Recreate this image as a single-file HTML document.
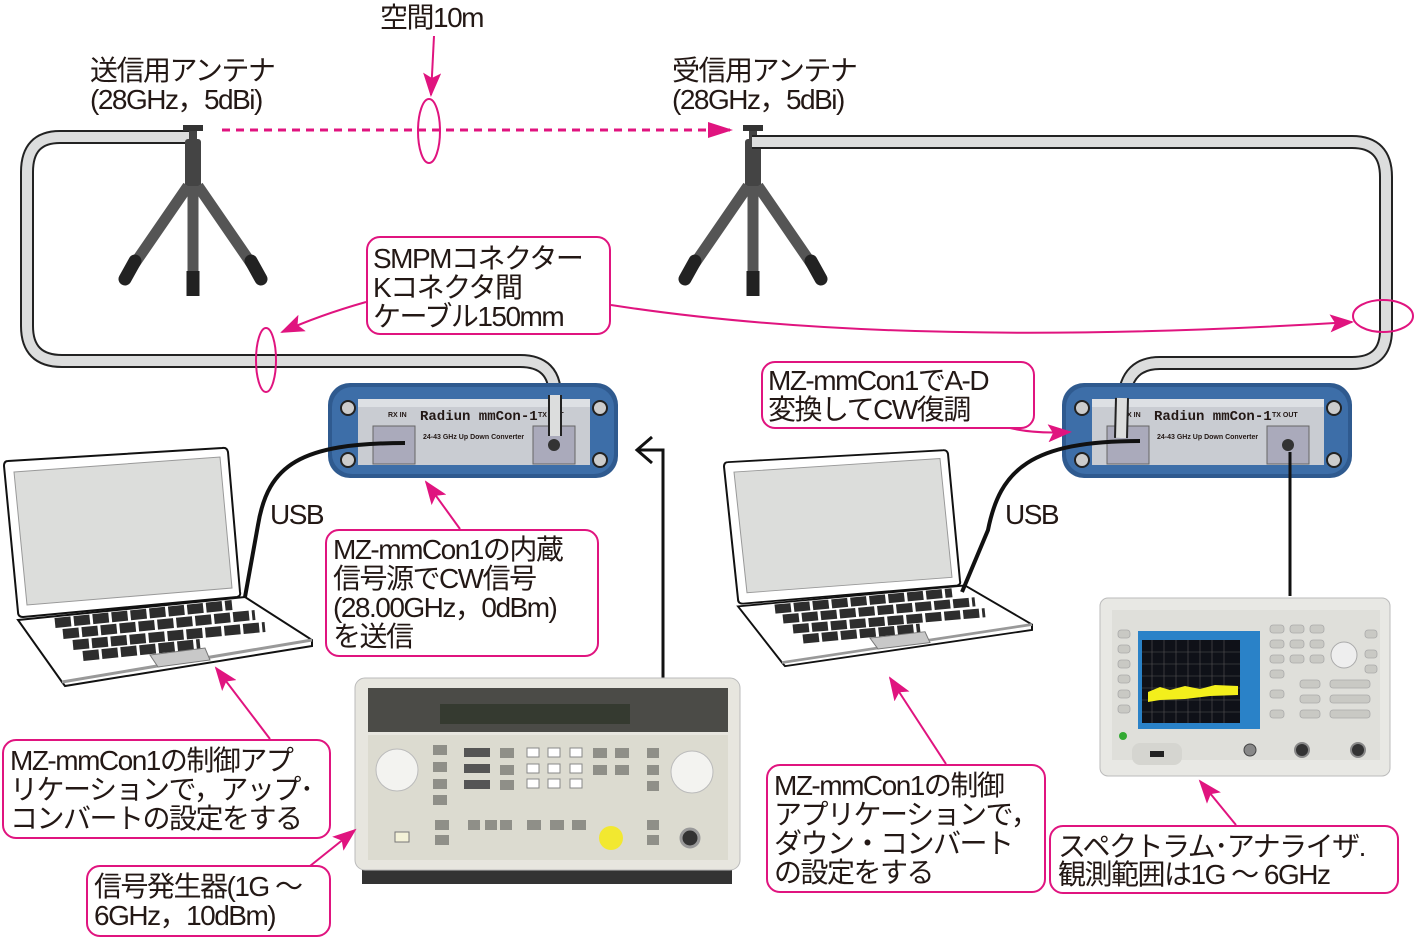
<!DOCTYPE html>
<html><head><meta charset="utf-8"><style>
html,body{margin:0;padding:0;background:#fff}
svg{display:block}
text{font-family:"Liberation Sans","Noto Sans CJK JP",sans-serif;font-size:28px;fill:#231815;letter-spacing:-1.5px}
</style></head><body>
<svg width="1415" height="937" viewBox="0 0 1415 937" xmlns="http://www.w3.org/2000/svg">
<defs>
<marker id="ah2" markerWidth="24" markerHeight="18" refX="22" refY="9" orient="auto" markerUnits="userSpaceOnUse">
<path d="M0,0 L24,9 L0,18 L5,9 z" fill="#e0147f"/></marker>
<g id="tripod">
<rect x="-10" y="-6" width="20" height="6" fill="#333"/>
<rect x="-4" y="0" width="8" height="10" fill="#444"/>
<rect x="-8" y="8" width="16" height="52" rx="3" fill="#444"/>
<line x1="-5" y1="55" x2="-60" y2="135" stroke="#555" stroke-width="11"/>
<line x1="5" y1="55" x2="60" y2="135" stroke="#555" stroke-width="11"/>
<line x1="0" y1="55" x2="0" y2="140" stroke="#555" stroke-width="11"/>
<line x1="-58" y1="130" x2="-68" y2="148" stroke="#222" stroke-width="13" stroke-linecap="round"/>
<line x1="58" y1="130" x2="68" y2="148" stroke="#222" stroke-width="13" stroke-linecap="round"/>
<line x1="0" y1="140" x2="0" y2="165" stroke="#222" stroke-width="13"/>
</g>
<g id="conv">
<rect x="0" y="0" width="290" height="95" rx="22" fill="#2f5a8f"/>
<rect x="4" y="4" width="282" height="87" rx="20" fill="#3d6ea8"/>
<rect x="30" y="16" width="232" height="66" fill="#c9ccd2"/>
<rect x="30" y="16" width="232" height="8" fill="#dde0e4"/>
<circle cx="20" cy="25" r="7" fill="#ccc" stroke="#222" stroke-width="2"/>
<circle cx="20" cy="77" r="7" fill="#ccc" stroke="#222" stroke-width="2"/>
<circle cx="272" cy="25" r="7" fill="#ccc" stroke="#222" stroke-width="2"/>
<circle cx="272" cy="77" r="7" fill="#ccc" stroke="#222" stroke-width="2"/>
<rect x="45" y="43" width="42" height="38" fill="#aab" stroke="#666"/>
<rect x="205" y="43" width="42" height="38" fill="#aab" stroke="#666"/>
<circle cx="226" cy="62" r="6" fill="#333"/>
<text x="60" y="34" style="font-size:7px;font-weight:bold;letter-spacing:0">RX IN</text>
<text x="92" y="37" style="font-size:14px;font-weight:bold;letter-spacing:0;font-family:'Liberation Mono',monospace">Radiun  mmCon-1</text>
<text x="210" y="34" style="font-size:7px;font-weight:bold;letter-spacing:0">TX OUT</text>
<text x="95" y="56" style="font-size:7px;font-weight:bold;letter-spacing:0">24-43 GHz Up Down Converter</text>
</g>
<g id="laptop">
<path d="M8,461 Q4,461 4,466 L18,612 Q18,617 23,617 L237,597 Q241,596 240,592 L228,452 Q227,447 222,448 Z" fill="#fff" stroke="#111" stroke-width="2"/>
<path d="M14,472 L220,457 L232,588 L27,605 Z" fill="#dcdddb" stroke="#999" stroke-width="1"/>
<path d="M18,620 L245,597 L312,640 L312,646 L65,686 L62,682 Z" fill="#fff" stroke="#111" stroke-width="2"/>
<path d="M62,682 L312,640" stroke="#999" stroke-width="3"/>
<g stroke="#2d2d2d" stroke-width="10" stroke-dasharray="16 3">
<line x1="55" y1="623" x2="232" y2="605"/>
<line x1="63" y1="634" x2="255" y2="615"/>
<line x1="73" y1="645" x2="265" y2="627"/>
<line x1="83" y1="656" x2="200" y2="644"/>
</g>
<path d="M150,655 L205,648 L210,660 L158,667 Z" fill="#c8c8c8" stroke="#777"/>
</g>
</defs>

<path d="M192,137 L60,137 Q27,137 27,172 L27,326 Q27,361 62,361 L520,361 Q555,361 555,396 L555,432" fill="none" stroke="#222" stroke-width="14"/>
<path d="M192,137 L60,137 Q27,137 27,172 L27,326 Q27,361 62,361 L520,361 Q555,361 555,396 L555,432" fill="none" stroke="#dcdddd" stroke-width="10"/>

<use href="#tripod" x="193" y="131"/>
<use href="#tripod" x="753" y="131"/>

<path d="M752,142 L1352,142 Q1386,142 1386,177 L1386,330 Q1386,363 1352,363 L1160,363 Q1127,363 1124,398 L1122,435" fill="none" stroke="#222" stroke-width="14"/>
<path d="M752,142 L1352,142 Q1386,142 1386,177 L1386,330 Q1386,363 1352,363 L1160,363 Q1127,363 1124,398 L1122,435" fill="none" stroke="#dcdddd" stroke-width="10"/>

<text x="380" y="27">空間10m</text>
<line x1="434" y1="36" x2="431" y2="95" stroke="#e0147f" stroke-width="2" marker-end="url(#ah2)"/>
<ellipse cx="429" cy="131" rx="11" ry="32" fill="none" stroke="#e0147f" stroke-width="2"/>
<line x1="222" y1="130" x2="730" y2="130" stroke="#e0147f" stroke-width="3" stroke-dasharray="8 6"/>
<path d="M708,122 L733,130 L708,138 Z" fill="#e0147f"/>
<text x="90" y="80">送信用アンテナ</text>
<text x="90" y="109">(28GHz，5dBi)</text>
<text x="672" y="80">受信用アンテナ</text>
<text x="672" y="109">(28GHz，5dBi)</text>

<rect x="367" y="237" width="243" height="97" rx="13" fill="#fff" stroke="#e0147f" stroke-width="2"/>
<text x="373" y="268">SMPMコネクター</text>
<text x="373" y="297">Kコネクタ間</text>
<text x="373" y="326">ケーブル150mm</text>
<path d="M366,302 Q320,315 282,332" fill="none" stroke="#e0147f" stroke-width="2" marker-end="url(#ah2)"/>
<ellipse cx="266" cy="360" rx="10" ry="32" fill="none" stroke="#e0147f" stroke-width="2"/>
<path d="M611,305 Q900,350 1352,322" fill="none" stroke="#e0147f" stroke-width="2" marker-end="url(#ah2)"/>
<ellipse cx="1383" cy="316" rx="30" ry="16" fill="none" stroke="#e0147f" stroke-width="2"/>

<use href="#conv" x="328" y="383"/>
<use href="#conv" x="1062" y="383"/>
<path d="M555,395 L555,436" stroke="#222" stroke-width="14"/><path d="M555,395 L555,436" stroke="#dcdddd" stroke-width="10"/>
<path d="M1122,398 L1121,438" stroke="#222" stroke-width="14"/><path d="M1122,398 L1121,438" stroke="#dcdddd" stroke-width="10"/>

<use href="#laptop"/>
<g transform="translate(720,44) scale(1,0.907)"><use href="#laptop"/></g>

<path d="M405,443 C300,443 268,465 258,525 L245,597" fill="none" stroke="#111" stroke-width="4"/>
<path d="M1140,441 C1030,441 1000,470 988,530 L962,592" fill="none" stroke="#111" stroke-width="4"/>
<text x="270" y="524">USB</text>
<text x="1005" y="524">USB</text>

<path d="M663,680 L663,450 L638,450" fill="none" stroke="#111" stroke-width="3"/>
<path d="M652,437 L637,450 L652,463" fill="none" stroke="#111" stroke-width="3"/>
<line x1="1290" y1="452" x2="1290" y2="596" stroke="#111" stroke-width="3"/>

<rect x="362" y="870" width="370" height="14" fill="#333"/>
<rect x="355" y="678" width="385" height="192" rx="10" fill="#e7e6df" stroke="#bbb"/>
<rect x="368" y="688" width="360" height="44" fill="#4b4b47"/>
<rect x="440" y="704" width="190" height="20" fill="#353a30"/>
<rect x="368" y="735" width="360" height="125" fill="#dcdbd0"/>
<circle cx="397" cy="770" r="21" fill="#f3f3f0" stroke="#bbb"/>
<circle cx="692" cy="772" r="21" fill="#f3f3f0" stroke="#bbb"/>
<g fill="#8f8f88">
<rect x="433" y="745" width="14" height="10"/><rect x="433" y="762" width="14" height="10"/><rect x="433" y="779" width="14" height="10"/><rect x="433" y="795" width="14" height="10"/>
<rect x="464" y="748" width="26" height="9" fill="#555"/><rect x="464" y="764" width="26" height="9" fill="#555"/><rect x="464" y="780" width="26" height="9" fill="#555"/>
<rect x="500" y="748" width="14" height="10"/><rect x="500" y="765" width="14" height="10"/><rect x="500" y="780" width="14" height="10"/>
<rect x="527" y="748" width="12" height="9" fill="#fff" stroke="#888"/><rect x="548" y="748" width="12" height="9" fill="#fff" stroke="#888"/><rect x="570" y="748" width="12" height="9" fill="#fff" stroke="#888"/>
<rect x="527" y="764" width="12" height="9" fill="#fff" stroke="#888"/><rect x="548" y="764" width="12" height="9" fill="#fff" stroke="#888"/><rect x="570" y="764" width="12" height="9" fill="#fff" stroke="#888"/>
<rect x="527" y="779" width="12" height="9" fill="#fff" stroke="#888"/><rect x="548" y="779" width="12" height="9" fill="#fff" stroke="#888"/><rect x="570" y="779" width="12" height="9" fill="#fff" stroke="#888"/>
<rect x="593" y="748" width="14" height="10"/><rect x="615" y="748" width="14" height="10"/><rect x="593" y="765" width="14" height="10"/><rect x="615" y="765" width="14" height="10"/>
<rect x="647" y="748" width="12" height="10"/><rect x="647" y="765" width="12" height="10"/><rect x="647" y="781" width="12" height="10"/>
<rect x="435" y="820" width="14" height="10"/><rect x="435" y="835" width="14" height="10"/><rect x="468" y="820" width="12" height="10"/><rect x="485" y="820" width="12" height="10"/><rect x="500" y="820" width="12" height="10"/>
<rect x="527" y="820" width="14" height="10"/><rect x="550" y="820" width="14" height="10"/><rect x="572" y="820" width="14" height="10"/>
<rect x="647" y="820" width="12" height="10"/><rect x="647" y="835" width="12" height="10"/>
</g>
<circle cx="611" cy="838" r="12" fill="#f2e830"/>
<rect x="395" y="832" width="14" height="10" fill="#f4f2d8" stroke="#777"/>
<circle cx="690" cy="838" r="9" fill="#333" stroke="#999" stroke-width="3"/>

<rect x="1100" y="598" width="290" height="178" rx="8" fill="#e8e8e4" stroke="#bbb"/>
<rect x="1112" y="610" width="268" height="150" fill="#dfdfda"/>
<rect x="1138" y="631" width="122" height="98" fill="#2a82c8"/>
<rect x="1142" y="640" width="98" height="83" fill="#0f1118"/>
<g stroke="#555" stroke-width="0.6">
<line x1="1152" y1="640" x2="1152" y2="723"/><line x1="1164" y1="640" x2="1164" y2="723"/><line x1="1176" y1="640" x2="1176" y2="723"/><line x1="1188" y1="640" x2="1188" y2="723"/><line x1="1200" y1="640" x2="1200" y2="723"/><line x1="1212" y1="640" x2="1212" y2="723"/><line x1="1224" y1="640" x2="1224" y2="723"/>
<line x1="1142" y1="652" x2="1240" y2="652"/><line x1="1142" y1="664" x2="1240" y2="664"/><line x1="1142" y1="676" x2="1240" y2="676"/><line x1="1142" y1="688" x2="1240" y2="688"/><line x1="1142" y1="700" x2="1240" y2="700"/><line x1="1142" y1="712" x2="1240" y2="712"/>
</g>
<path d="M1148,692 L1160,687 L1170,690 L1185,686 L1200,689 L1215,685 L1238,686 L1238,695 L1210,696 L1185,699 L1160,700 L1148,702 Z" fill="#f3ef1c"/>
<g fill="#c9c9c4" stroke="#aaa" stroke-width="0.8">
<rect x="1270" y="625" width="14" height="8" rx="3"/><rect x="1290" y="625" width="14" height="8" rx="3"/><rect x="1310" y="625" width="14" height="8" rx="3"/>
<rect x="1270" y="640" width="14" height="8" rx="3"/><rect x="1290" y="640" width="14" height="8" rx="3"/><rect x="1310" y="640" width="14" height="8" rx="3"/>
<rect x="1270" y="655" width="14" height="8" rx="3"/><rect x="1290" y="655" width="14" height="8" rx="3"/><rect x="1310" y="655" width="14" height="8" rx="3"/>
<rect x="1270" y="670" width="14" height="8" rx="3"/><rect x="1300" y="680" width="20" height="8" rx="3"/><rect x="1330" y="680" width="40" height="8" rx="3"/>
<rect x="1270" y="690" width="14" height="8" rx="3"/><rect x="1300" y="695" width="20" height="8" rx="3"/><rect x="1330" y="695" width="40" height="8" rx="3"/>
<rect x="1270" y="710" width="14" height="8" rx="3"/><rect x="1300" y="710" width="20" height="8" rx="3"/><rect x="1330" y="710" width="40" height="8" rx="3"/>
<rect x="1118" y="630" width="12" height="8" rx="3"/><rect x="1118" y="645" width="12" height="8" rx="3"/><rect x="1118" y="660" width="12" height="8" rx="3"/><rect x="1118" y="675" width="12" height="8" rx="3"/><rect x="1118" y="690" width="12" height="8" rx="3"/><rect x="1118" y="705" width="12" height="8" rx="3"/>
<rect x="1365" y="630" width="12" height="8" rx="3"/><rect x="1365" y="650" width="12" height="8" rx="3"/><rect x="1365" y="665" width="12" height="8" rx="3"/>
</g>
<circle cx="1344" cy="655" r="13" fill="#eee" stroke="#aaa"/>
<circle cx="1123" cy="736" r="4" fill="#3a3"/>
<rect x="1132" y="743" width="50" height="22" rx="8" fill="#d5d5d0"/>
<rect x="1150" y="751" width="14" height="6" fill="#222"/>
<circle cx="1250" cy="750" r="6" fill="#888" stroke="#444"/>
<circle cx="1302" cy="750" r="7" fill="#333" stroke="#888" stroke-width="2"/>
<circle cx="1358" cy="750" r="7" fill="#333" stroke="#888" stroke-width="2"/>

<rect x="762" y="362" width="272" height="66" rx="13" fill="#fff" stroke="#e0147f" stroke-width="2"/>
<text x="768" y="390">MZ-mmCon1でA-D</text>
<text x="768" y="419">変換してCW復調</text>
<path d="M1010,428 Q1035,434 1070,432" fill="none" stroke="#e0147f" stroke-width="2" marker-end="url(#ah2)"/>

<rect x="326" y="530" width="272" height="126" rx="13" fill="#fff" stroke="#e0147f" stroke-width="2"/>
<text x="333" y="559">MZ-mmCon1の内蔵</text>
<text x="333" y="588">信号源でCW信号</text>
<text x="333" y="617">(28.00GHz，0dBm)</text>
<text x="333" y="646">を送信</text>
<line x1="460" y1="529" x2="426" y2="482" stroke="#e0147f" stroke-width="2" marker-end="url(#ah2)"/>

<rect x="3" y="740" width="327" height="98" rx="13" fill="#fff" stroke="#e0147f" stroke-width="2"/>
<text x="10" y="770">MZ-mmCon1の制御アプ</text>
<text x="10" y="799">リケーションで，アップ･</text>
<text x="10" y="828">コンバートの設定をする</text>
<line x1="270" y1="739" x2="216" y2="668" stroke="#e0147f" stroke-width="2" marker-end="url(#ah2)"/>

<rect x="87" y="866" width="243" height="70" rx="13" fill="#fff" stroke="#e0147f" stroke-width="2"/>
<text x="94" y="896">信号発生器(1G ～</text>
<text x="94" y="925">6GHz，10dBm)</text>
<line x1="310" y1="866" x2="355" y2="830" stroke="#e0147f" stroke-width="2" marker-end="url(#ah2)"/>

<rect x="767" y="765" width="278" height="127" rx="13" fill="#fff" stroke="#e0147f" stroke-width="2"/>
<text x="774" y="795">MZ-mmCon1の制御</text>
<text x="774" y="824">アプリケーションで，</text>
<text x="774" y="853">ダウン・コンバート</text>
<text x="774" y="882">の設定をする</text>
<line x1="946" y1="764" x2="890" y2="678" stroke="#e0147f" stroke-width="2" marker-end="url(#ah2)"/>

<rect x="1050" y="826" width="348" height="67" rx="13" fill="#fff" stroke="#e0147f" stroke-width="2"/>
<text x="1058" y="856">スペクトラム･アナライザ.</text>
<text x="1058" y="884">観測範囲は1G ～ 6GHz</text>
<line x1="1236" y1="825" x2="1200" y2="781" stroke="#e0147f" stroke-width="2" marker-end="url(#ah2)"/>
</svg>
</body></html>
